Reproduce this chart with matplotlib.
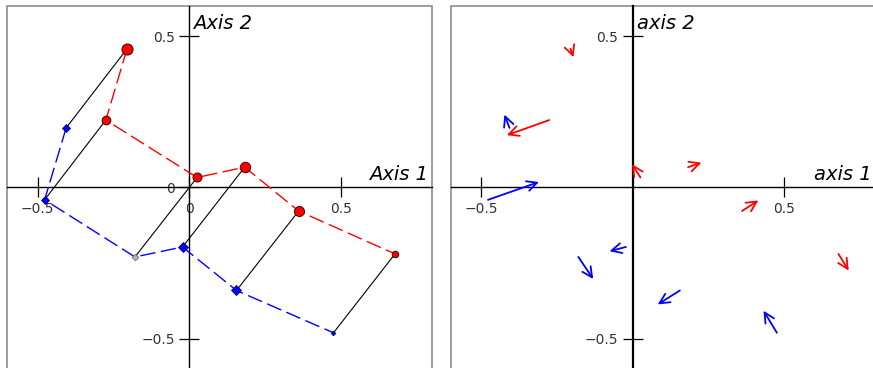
import matplotlib

matplotlib.use("Agg")
import matplotlib.pyplot as plt
from matplotlib.patches import Rectangle

# first configuration: red circles
red_x = [-0.205, -0.275, 0.026, 0.183, 0.361, 0.679]
red_y = [0.459, 0.223, 0.033, 0.067, -0.078, -0.220]
red_size = [8.0, 6.3, 6.5, 7.5, 7.2, 4.7]

# second configuration: blue diamonds (one point greyed out)
blue_x = [-0.406, -0.477, -0.179, -0.022, 0.156, 0.476]
blue_y = [0.197, -0.041, -0.230, -0.197, -0.341, -0.481]
blue_size = [4.5, 4.1, 3.4, 5.2, 5.4, 2.3]
blue_fill = ["#0000ff", "#0000ff", "#b4b4b4", "#0000ff", "#0000ff", "#0000ff"]
blue_edge = ["#000060", "#000060", "#707070", "#000060", "#000060", "#000060"]

# displacement of each point, drawn as arrows in the second panel
red_dx = [0.010, -0.140, -0.028, 0.044, 0.054, 0.034]
red_dy = [-0.028, -0.050, 0.044, 0.015, 0.035, -0.055]
blue_dx = [-0.017, 0.168, 0.049, -0.054, -0.073, -0.044]
blue_dy = [0.044, 0.059, -0.073, -0.014, -0.046, 0.073]

left_ticks = [-0.5, 0, 0.5]
left_tick_labels = ["\u22120.5", "0", "0.5"]
right_ticks = [-0.5, 0.5]
right_tick_labels = ["\u22120.5", "0.5"]


def setup_axes(ax, ticks, labels, xname, yname, vline_width):
    ax.set_xlim(-0.6, 0.8)
    ax.set_ylim(-0.6, 0.6)
    ax.spines["top"].set_visible(False)
    ax.spines["right"].set_visible(False)
    ax.spines["left"].set_position("zero")
    ax.spines["bottom"].set_position("zero")
    ax.spines["left"].set_linewidth(vline_width)
    ax.spines["bottom"].set_linewidth(1.0)
    ax.set_xticks(ticks, labels)
    ax.set_yticks(ticks, labels)
    ax.tick_params(direction="inout", length=14, width=0.9, color="black",
                   labelsize=10, labelcolor="#333333", pad=3.5)
    ax.add_patch(Rectangle((0, 0), 1, 1, transform=ax.transAxes, fill=False,
                           edgecolor="#8c8c8c", lw=1.2, clip_on=False))
    ax.text(0.992, 0.023, xname, transform=ax.get_yaxis_transform(),
            ha="right", va="baseline", fontsize=14, style="italic")
    ax.text(0.013, 0.937, yname, transform=ax.get_xaxis_transform(),
            ha="left", va="baseline", fontsize=14, style="italic")


fig = plt.figure(figsize=(8.73, 3.68), dpi=100)
ax1 = fig.add_axes([0.0084, -0.002, 0.4861, 0.9853])
ax2 = fig.add_axes([0.5163, -0.002, 0.4861, 0.9853])

setup_axes(ax1, left_ticks, left_tick_labels, "Axis 1", "Axis 2", 1.0)
setup_axes(ax2, right_ticks, right_tick_labels, "axis 1", "axis 2", 1.6)

# segments joining matching points of the two configurations
for i in range(len(red_x)):
    ax1.plot([red_x[i], blue_x[i]], [red_y[i], blue_y[i]], color="black", lw=0.8, zorder=2)

ax1.plot(red_x, red_y, color="#ff0000", lw=1.0, dashes=(11, 4), zorder=3)
ax1.plot(blue_x, blue_y, color="#0000ff", lw=1.0, dashes=(11, 4), zorder=3)

for i in range(len(red_x)):
    ax1.plot(red_x[i], red_y[i], "o", ms=red_size[i], mfc="#ff0000", mec="#400000",
             mew=0.7, zorder=4)
    ax1.plot(blue_x[i], blue_y[i], "D", ms=blue_size[i], mfc=blue_fill[i],
             mec=blue_edge[i], mew=0.6, zorder=4)

arrow_style = "->,head_length=0.6,head_width=0.3"
for x, y, dx, dy in zip(red_x, red_y, red_dx, red_dy):
    ax2.annotate("", xy=(x + dx, y + dy), xytext=(x, y),
                 arrowprops=dict(arrowstyle=arrow_style, color="#ff0000", lw=1.3,
                                 shrinkA=0, shrinkB=0, mutation_scale=12))
for x, y, dx, dy in zip(blue_x, blue_y, blue_dx, blue_dy):
    ax2.annotate("", xy=(x + dx, y + dy), xytext=(x, y),
                 arrowprops=dict(arrowstyle=arrow_style, color="#0000ff", lw=1.3,
                                 shrinkA=0, shrinkB=0, mutation_scale=12))

fig.savefig("out.png", dpi=100)
plt.close(fig)
